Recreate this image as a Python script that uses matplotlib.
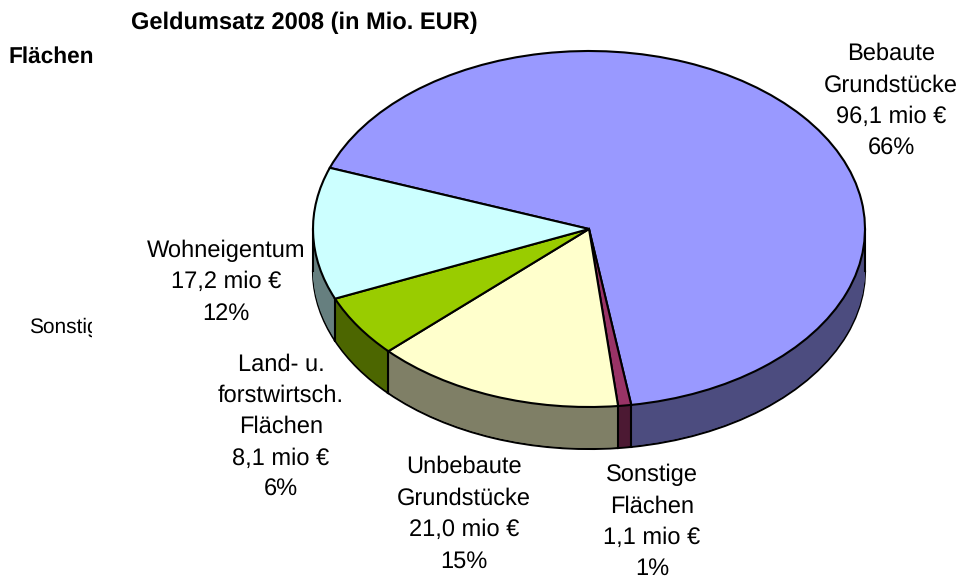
import matplotlib
matplotlib.use("Agg")
import matplotlib.pyplot as plt
import numpy as np
from matplotlib.transforms import Bbox

# slices in drawing order, clockwise
names = ["Bebaute\nGrundstücke", "Sonstige\nFlächen", "Unbebaute\nGrundstücke",
         "Land- u.\nforstwirtsch.\nFlächen", "Wohneigentum"]
values = [96.1, 1.1, 21.0, 8.1, 17.2]
value_labels = ["96,1 mio €", "1,1 mio €", "21,0 mio €", "8,1 mio €", "17,2 mio €"]
percent_labels = ["66%", "1%", "15%", "6%", "12%"]
top_colors = ["#9999FF", "#993366", "#FFFFCC", "#99CC00", "#CCFFFF"]
wall_colors = ["#4C4C7F", "#4C1933", "#7F7F66", "#4C6600", "#667F7F"]

# pixel centre of each data label
label_x = [891, 652, 464, 281, 226]
label_y = [101, 522, 514, 427, 282]

W, H = 959, 580
cx, cy, rx, ry = 589, 229, 276, 178
depth_px = 42
start = 159.9

plt.rcParams["font.family"] = ["Liberation Sans", "DejaVu Sans"]
plt.rcParams["text.hinting"] = "no_hinting"
fig = plt.figure(figsize=(W / 100, H / 100), dpi=100)
ax = fig.add_axes([0, 0, 1, 1])

# wall is a stack of darker pies, bottom one has the outline
for d in range(depth_px, 0, -1):
    edge = dict(edgecolor="black", linewidth=1.5) if d == depth_px else dict(edgecolor="none")
    ax.pie(values, colors=wall_colors, startangle=start, counterclock=False,
           center=(0, -d / ry), wedgeprops=edge)

ax.pie(values, colors=top_colors, startangle=start, counterclock=False,
       wedgeprops=dict(edgecolor="black", linewidth=1.5))

# vertical edges of the wall
depth = depth_px / ry
edges = start - np.cumsum(values) / np.sum(values) * 360
for a in edges:
    if np.sin(np.radians(a)) < 0:
        x = np.cos(np.radians(a))
        y = np.sin(np.radians(a))
        ax.plot([x, x], [y, y - depth], color="black", lw=1.5)
ax.plot([-1, -1], [0, -depth], color="black", lw=1.5)
ax.plot([1, 1], [0, -depth], color="black", lw=1.5)

ax.set_aspect("auto")
ax.set_xlim(-cx / rx, (W - cx) / rx)
ax.set_ylim((cy - H) / ry, cy / ry)
ax.axis("off")


def px_text(x, y, s, **kw):
    return fig.text(x / W, 1 - y / H, s, **kw)


for n, v, p, x, y in zip(names, value_labels, percent_labels, label_x, label_y):
    px_text(x, y, n + "\n" + v + "\n" + p, ha="center", va="center",
            fontsize=17, linespacing=1.52, color="black")

px_text(304, 23, "Geldumsatz 2008 (in Mio. EUR)", ha="center", va="center",
        fontsize=17, fontweight="bold")
px_text(8, 57, "Flächen", ha="left", va="center", fontsize=16.3, fontweight="bold")

# cut off by the chart area in the original
cut = px_text(29, 327, "Sonstige", ha="left", va="center", fontsize=15)
cut.set_clip_box(Bbox([[0, 0], [92, H]]))
cut.set_clip_on(True)

fig.savefig("out.png", dpi=100)
